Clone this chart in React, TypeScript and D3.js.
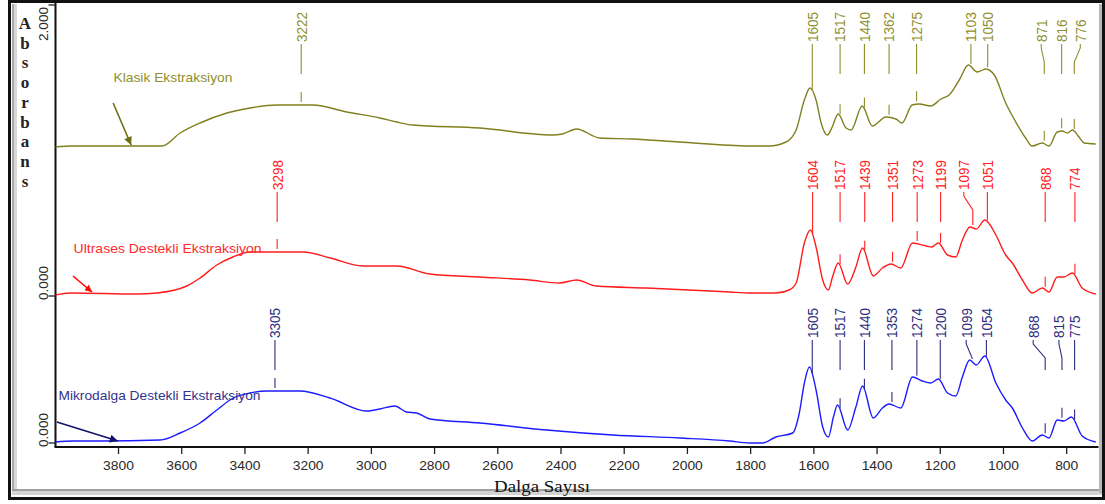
import React from "react";
import * as d3 from "d3";

// ---------- DATA ----------
const xTickValues = [3800, 3600, 3400, 3200, 3000, 2800, 2600, 2400, 2200, 2000, 1800, 1600, 1400, 1200, 1000, 800];
const yTickValues = [-0.01, 1.46, 4.37];
const yTickLabels = ["0.000", "0.000", "2.000"];

const seriesNames = ["Klasik Ekstraksiyon", "Ultrases Destekli Ekstraksiyon", "Mikrodalga Destekli Ekstraksiyon"];
const seriesOffsets = [2.96, 1.48, 0];

// wavenumber (cm-1), absorbance (relative)
const klasikWavenumber = [4000, 3946, 3662, 3605, 3542, 3457, 3384, 3299, 3185, 3078, 2973, 2920, 2870, 2657, 2427, 2396, 2351, 2278, 2174, 2026, 1804, 1741, 1688, 1656, 1630, 1612, 1593, 1577, 1557, 1542, 1523, 1498, 1482, 1447, 1415, 1372, 1340, 1321, 1289, 1267, 1230, 1198, 1172, 1140, 1111, 1083, 1056, 1029, 993, 961, 930, 909, 877, 856, 830, 814, 798, 782, 761, 745, 708];
const klasikAbs = [-0.01, 0, 0, 0.13, 0.23, 0.33, 0.38, 0.41, 0.41, 0.34, 0.28, 0.24, 0.21, 0.18, 0.11, 0.12, 0.17, 0.08, 0.07, 0.04, 0, 0, 0.04, 0.16, 0.46, 0.58, 0.46, 0.23, 0.11, 0.19, 0.32, 0.18, 0.16, 0.40, 0.20, 0.29, 0.27, 0.23, 0.41, 0.42, 0.40, 0.47, 0.51, 0.66, 0.81, 0.74, 0.77, 0.71, 0.43, 0.24, 0.08, 0, 0.03, 0, 0.14, 0.15, 0.13, 0.16, 0.09, 0.03, 0.02];

const ultrasesWavenumber = [4000, 3953, 3741, 3679, 3584, 3542, 3489, 3438, 3384, 3331, 3216, 3130, 3027, 2920, 2815, 2657, 2499, 2405, 2351, 2288, 2130, 1867, 1804, 1720, 1678, 1656, 1630, 1611, 1593, 1572, 1554, 1541, 1523, 1493, 1467, 1446, 1412, 1383, 1356, 1325, 1288, 1245, 1227, 1206, 1177, 1151, 1130, 1106, 1086, 1059, 1024, 993, 972, 940, 909, 877, 856, 830, 809, 782, 751, 708];
const ultrasesAbs = [-0.01, 0.01, 0, 0.01, 0.08, 0.16, 0.29, 0.37, 0.42, 0.42, 0.42, 0.36, 0.28, 0.28, 0.20, 0.17, 0.14, 0.11, 0.14, 0.08, 0.06, 0.02, 0.01, 0.01, 0.04, 0.11, 0.51, 0.64, 0.47, 0.14, 0.04, 0.17, 0.31, 0.10, 0.27, 0.46, 0.18, 0.26, 0.30, 0.26, 0.51, 0.48, 0.47, 0.51, 0.39, 0.37, 0.54, 0.67, 0.65, 0.74, 0.59, 0.39, 0.31, 0.14, 0.01, 0.06, 0.02, 0.17, 0.17, 0.21, 0.06, 0];

const mikroWavenumber = [4000, 3943, 3858, 3668, 3605, 3542, 3489, 3437, 3384, 3331, 3226, 3131, 3015, 2973, 2926, 2889, 2857, 2815, 2657, 2446, 2236, 2025, 1867, 1804, 1762, 1720, 1667, 1646, 1630, 1614, 1593, 1572, 1554, 1538, 1525, 1493, 1467, 1446, 1412, 1383, 1362, 1325, 1288, 1257, 1230, 1206, 1177, 1151, 1130, 1107, 1086, 1059, 1024, 993, 972, 940, 909, 877, 856, 830, 809, 785, 751, 708];
const mikroAbs = [0, 0.01, 0.01, 0.02, 0.09, 0.19, 0.32, 0.44, 0.49, 0.51, 0.51, 0.44, 0.31, 0.33, 0.36, 0.30, 0.29, 0.23, 0.19, 0.12, 0.07, 0.04, 0.01, -0.01, -0.01, 0.05, 0.09, 0.29, 0.59, 0.75, 0.52, 0.15, 0.05, 0.25, 0.37, 0.12, 0.35, 0.56, 0.24, 0.34, 0.38, 0.34, 0.65, 0.61, 0.59, 0.63, 0.49, 0.46, 0.65, 0.82, 0.77, 0.86, 0.59, 0.42, 0.34, 0.14, 0.01, 0.07, 0.04, 0.22, 0.21, 0.25, 0.06, 0];

const klasikPeaks = [3222, 1605, 1517, 1440, 1362, 1275, 1103, 1050, 871, 816, 776];
const ultrasesPeaks = [3298, 1604, 1517, 1439, 1351, 1273, 1199, 1097, 1051, 868, 774];
const mikroPeaks = [3305, 1605, 1517, 1440, 1353, 1274, 1200, 1099, 1054, 868, 815, 775];

// ---------- LAYOUT / STYLE ----------
const W = 1105;
const H = 504;
const SANS = "'Liberation Sans', Arial, sans-serif";
const SERIF = "'Liberation Serif', 'Times New Roman', serif";

const styles = [
  { line: "#808020", text: "#8f8f2e", label: "#8f8f2e", arrow: "#6e6e14" },
  { line: "#ff1c1c", text: "#ff2020", label: "#ff2a2a", arrow: "#ff0000" },
  { line: "#1c1cff", text: "#2c2c80", label: "#33338c", arrow: "#12126c" },
];
// label x shifts (px) for bent leaders
const labelShift = [
  { 871: -3, 776: 6 } as Record<number, number>,
  { 1097: -9 } as Record<number, number>,
  { 1099: -6, 868: -12, 815: -3 } as Record<number, number>,
];
// series name labels and arrows in data coords [wavenumber, value above own baseline]
const nameAnchors = [
  { text: [3816, 0.64], len: 119, tail: [3817, 0.43], tip: [3760, 0.01] },
  { text: [3942, 0.41], len: 188, tail: [3944, 0.18], tip: [3884, 0.02] },
  { text: [3990, 0.42], len: 202, tail: [3995, 0.2], tip: [3802, 0.01] },
];

const allSeries = [
  { wn: klasikWavenumber, ab: klasikAbs, peaks: klasikPeaks },
  { wn: ultrasesWavenumber, ab: ultrasesAbs, peaks: ultrasesPeaks },
  { wn: mikroWavenumber, ab: mikroAbs, peaks: mikroPeaks },
];

function interp(wn: number[], ab: number[], v: number) {
  for (let i = 0; i < wn.length - 1; i++) {
    if (wn[i] >= v && wn[i + 1] <= v) {
      const t = (wn[i] - v) / (wn[i] - wn[i + 1]);
      return ab[i] + t * (ab[i + 1] - ab[i]);
    }
  }
  return 0;
}

export default function App() {
  const x = d3.scaleLinear().domain([4000, 700]).range([55.3, 1098.3]);
  const y = d3.scaleLinear().domain([0, 4.4]).range([442, 2]);
  const axisY = 447;
  const axisX = 55.5;

  const absLetters = "Absorbans".split("");

  return (
    <svg width={W} height={H} style={{ position: "absolute", left: 0, top: 0, background: "#fff" }}>
      <defs>
        {styles.map((s, i) => (
          <marker key={i} id={`ah${i}`} viewBox="0 0 10 10" refX="10" refY="5" markerWidth={i === 1 ? 9 : 13} markerHeight={i === 1 ? 7 : 8} markerUnits="userSpaceOnUse" orient="auto">
            <path d="M0,0 L10,5 L0,10 z" fill={s.arrow} />
          </marker>
        ))}
        <clipPath id="plotclip">
          <rect x={axisX} y={3} width={1098.5 - axisX} height={axisY - 3} />
        </clipPath>
      </defs>
      <rect x={0} y={0} width={W} height={H} fill="#fff" />

      {/* frame */}
      <rect x={12} y={4} width={2} height={489} fill="#a8a8a8" />
      <rect x={14} y={4} width={3} height={489} fill="#d8d8d8" />
      <rect x={12} y={489} width={1090} height={2} fill="#a0a0a0" />
      <rect x={12} y={491} width={1090} height={4} fill="#d4d4d4" />
      <rect x={1099} y={4} width={3} height={489} fill="#b8b8b8" />
      <rect x={9} y={0} width={1096} height={3} fill="#111" />
      <rect x={8} y={0} width={3} height={500} fill="#111" />
      <rect x={8} y={497} width={1097} height={3} fill="#111" />
      <rect x={1102} y={0} width={3} height={500} fill="#111" />

      {/* Absorbans */}
      {absLetters.map((c, i) => (
        <text key={i} x={25} y={29 + i * 19.7} textAnchor="middle" fontFamily={SERIF} fontWeight="bold" fontSize={17} fill="#222">
          {c}
        </text>
      ))}

      {/* axes */}
      <line x1={axisX} y1={3} x2={axisX} y2={axisY} stroke="#111" strokeWidth={2} />
      <line x1={axisX - 1} y1={axisY} x2={1098.5} y2={axisY} stroke="#111" strokeWidth={2} />
      {xTickValues.map((t) => (
        <g key={t}>
          <line x1={x(t)} y1={axisY} x2={x(t)} y2={axisY + 7} stroke="#222" strokeWidth={1.3} />
          <text x={x(t)} y={470} textAnchor="middle" fontFamily={SANS} fontSize={12.5} fill="#2a2a2a" textLength={String(t).length * 7.7} lengthAdjust="spacingAndGlyphs">
            {t}
          </text>
        </g>
      ))}
      {yTickValues.map((t, i) => {
        const ty = y(t);
        const top = i === yTickValues.length - 1;
        return (
          <g key={i}>
            <line x1={axisX - 7} y1={ty} x2={axisX} y2={ty} stroke="#222" strokeWidth={1.3} />
            <text
              transform={`translate(43,${top ? ty + 2 : ty + 4}) rotate(-90)`}
              dy="0.36em"
              textAnchor={top ? "end" : "start"}
              fontFamily={SANS}
              fontSize={12.5}
              fill="#2a2a2a"
              textLength={34}
              lengthAdjust="spacingAndGlyphs"
            >
              {yTickLabels[i]}
            </text>
          </g>
        );
      })}
      <text x={542} y={492} textAnchor="middle" fontFamily={SERIF} fontSize={16} fill="#111" textLength={96} lengthAdjust="spacingAndGlyphs">
        Dalga Sayısı
      </text>

      {/* spectra */}
      {allSeries.map((s, si) => {
        const off = seriesOffsets[si];
        const pts: [number, number][] = s.wn.map((w, i) => [w, s.ab[i]]);
        const gen = d3
          .line<[number, number]>()
          .x((d) => x(d[0]))
          .y((d) => y(d[1] + off))
          .curve(d3.curveMonotoneX);
        const base = y(off);
        const labelBottom = base - 104;
        const lineTop = base - 102;
        const lineEnd = base - 72;
        const st = styles[si];
        const na = nameAnchors[si];
        return (
          <g key={si}>
            <path d={gen(pts) || ""} fill="none" stroke={st.line} strokeWidth={1.4} clipPath="url(#plotclip)" />
            {s.peaks.map((p) => {
              const lx = x(p);
              const tx = lx + (labelShift[si][p] || 0);
              const py = y(interp(s.wn, s.ab, p) + off);
              const tickTop = py - 13;
              const tickBot = py - 3;
              let d = `M${tx},${lineTop}`;
              if (tx !== lx) d += ` V${lineTop + 4} L${lx},${lineTop + 18}`;
              if (tickTop - lineEnd <= 6) {
                d += ` V${tickBot}`;
              } else {
                d += ` V${lineEnd} M${lx},${tickTop} V${tickBot}`;
              }
              const txt = String(p);
              return (
                <g key={p}>
                  <path d={d} fill="none" stroke={st.text} strokeWidth={1.1} />
                  <text
                    transform={`translate(${tx},${labelBottom}) rotate(-90)`}
                    dy="0.36em"
                    textAnchor="start"
                    fontFamily={SANS}
                    fontSize={15}
                    fill={st.text}
                    textLength={txt.length * 7.5}
                    lengthAdjust="spacingAndGlyphs"
                  >
                    {txt}
                  </text>
                </g>
              );
            })}
            <text x={x(na.text[0])} y={y(na.text[1] + off)} fontFamily={SANS} fontSize={13.5} fill={st.label} textLength={na.len} lengthAdjust="spacingAndGlyphs">
              {seriesNames[si]}
            </text>
            <line
              x1={x(na.tail[0])}
              y1={y(na.tail[1] + off)}
              x2={x(na.tip[0])}
              y2={y(na.tip[1] + off)}
              stroke={st.arrow}
              strokeWidth={1.6}
              markerEnd={`url(#ah${si})`}
            />
          </g>
        );
      })}
    </svg>
  );
}
